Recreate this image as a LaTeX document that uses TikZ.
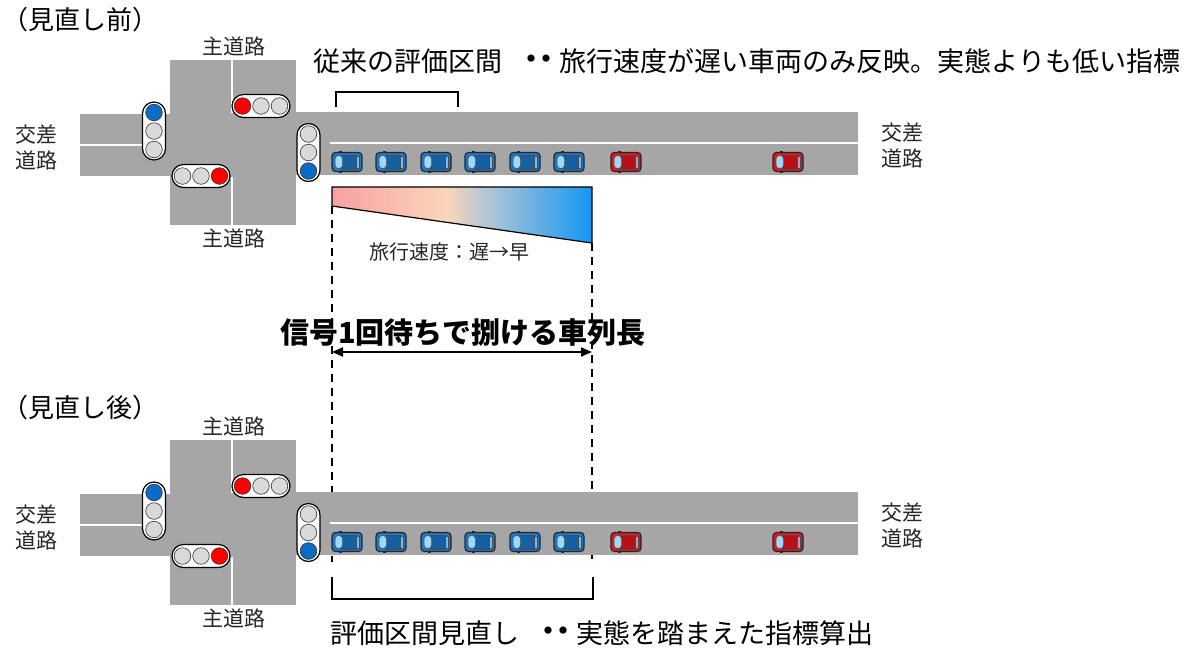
\documentclass[tikz,border=0pt]{standalone}
\usepackage{fontspec}
\setmainfont{Noto Sans CJK JP}
\usetikzlibrary{arrows.meta}

\definecolor{road}{HTML}{A6A6A6}
\definecolor{lampgray}{HTML}{D9D9D9}
\definecolor{lampblue}{HTML}{0A6CC4}
\definecolor{lampred}{HTML}{FF0000}
\definecolor{carblue}{HTML}{1A78CC}
\definecolor{carred}{HTML}{E5141B}
\definecolor{glass}{HTML}{9FD8F6}
\definecolor{gpink}{HTML}{F8A0A2}
\definecolor{gpeach}{HTML}{FAD6B8}
\definecolor{ggray}{HTML}{AFC6D6}
\definecolor{gblue}{HTML}{1496F2}

\pgfdeclarehorizontalshading{speedshade}{100bp}{color(0bp)=(gpink); color(25bp)=(gpink); color(47bp)=(gpeach); color(55bp)=(ggray); color(75bp)=(gblue); color(100bp)=(gblue)}

\tikzset{
  cline/.style={draw=white, line width=2},
  sigbody/.style={draw=black, fill=white, line width=1.2},
  lamp/.style={draw=black!80, line width=0.6},
  lab/.style={inner sep=0, font=\fontsize{21}{26}\selectfont, text=black!85},
  bigtext/.style={inner sep=0, font=\fontsize{27}{32}\selectfont, text=black, anchor=west},
  dashline/.style={draw=black, line width=1.4, dash pattern=on 8pt off 6pt},
  bracket/.style={draw=black, line width=2},
  dimarrow/.style={draw=black, line width=1.8, {Triangle[length=11pt,width=9pt]}-{Triangle[length=11pt,width=9pt]}},
}

\newcommand\Dots{\hspace{0.45em}{\fontsize{34}{32}\selectfont ・\kern-0.55em・}\kern-0.15em}

\newcommand\SigV[5]{%
  \begin{scope}[shift={(#1,#2)}]
    \draw[sigbody, rounded corners=11.5] (-11.5,-29) rectangle (11.5,29);
    \draw[lamp, fill=#3] (0,-18.5) circle (8.3);
    \draw[lamp, fill=#4] (0,0) circle (8.3);
    \draw[lamp, fill=#5] (0,18.5) circle (8.3);
  \end{scope}}
\newcommand\SigH[5]{%
  \begin{scope}[shift={(#1,#2)}]
    \draw[sigbody, rounded corners=11.5] (-29,-11.5) rectangle (29,11.5);
    \draw[lamp, fill=#3] (-18.5,0) circle (8.3);
    \draw[lamp, fill=#4] (0,0) circle (8.3);
    \draw[lamp, fill=#5] (18.5,0) circle (8.3);
  \end{scope}}
\newcommand\Car[3]{%
  \begin{scope}[shift={(#1,#2)}]
    \fill[black!85] (-8,-10.8) rectangle (-5,10.8);
    \draw[fill=#3, draw=black!85, line width=1.2, rounded corners=3.5] (-15,-9.5) rectangle (15,9.5);
    \draw[fill=#3!80!black, draw=black!70, line width=0.5] (-6,-7) rectangle (9.5,7);
    \draw[fill=glass, draw=black!70, line width=0.5, rounded corners=3.5] (-12,-6.5) rectangle (-4.5,6.5);
    \draw[fill=glass!70!#3, draw=black!70, line width=0.4] (9.5,-6) rectangle (12,6);
  \end{scope}}

\newcommand\HalfScene[2]{%
  \begin{scope}[shift={(0,#1)}]
    \fill[road] (170,60) rectangle (296,225);
    \fill[road] (80,114) rectangle (171,176);
    \fill[road] (295,112) rectangle (858,175);
    \draw[cline] (80,145) -- (142,145);
    \draw[cline] (232,60) -- (232,113);
    \draw[cline] (232,177) -- (232,225);
    \draw[cline] (330,143) -- (858,143);
    \SigV{154}{131}{lampblue}{lampgray}{lampgray}
    \SigH{261}{106}{lampred}{lampgray}{lampgray}
    \SigH{201}{176}{lampgray}{lampgray}{lampred}
    \SigV{308.5}{152.5}{lampgray}{lampgray}{lampblue}
    \foreach \cx in {347,391,436,480,525,569} {\Car{\cx}{162}{carblue}}
    \Car{626}{162}{carred}
    \Car{788}{162}{carred}
    \node[lab] (mainN#2) at (234,46) {主道路};
    \node[lab] (mainS#2) at (234,238) {主道路};
    \node[lab, align=center] (crossW#2) at (37,147) {交差\\道路};
    \node[lab, align=center] (crossE#2) at (902,145) {交差\\道路};
  \end{scope}}

\begin{document}
\begin{tikzpicture}[x=1pt, y=-1pt, line join=miter]
  \fill[white] (0,0) rectangle (1200,649);
  \useasboundingbox (0,0) rectangle (1200,649);

  % dashed guide lines (behind lower road)
  \coordinate (dlt) at (332,206);
  \coordinate (dlb) at (332,562);
  \coordinate (drt) at (592,243);
  \coordinate (drb) at (592,562);
  \draw[dashline] (dlt) -- (dlb);
  \draw[dashline] (drt) -- (drb);

  % upper scene
  \node[inner sep=0, anchor=west, font=\fontsize{26}{30}\selectfont] (before) at (2,20) {（見直し前）};
  \HalfScene{0}{A}

  % old evaluation section bracket
  \coordinate (ob1) at (336,107);
  \coordinate (ob2) at (458,107);
  \draw[bracket] (ob1) -- ++(0,-15) -| (ob2);
  \node[bigtext] (oldtxt) at (313,61) {従来の評価区間\Dots 旅行速度が遅い車両のみ反映。実態よりも低い指標};

  % speed gradient
  \shadedraw[shading=speedshade, draw=black, line width=1.2] (332,187) -- (592,187) -- (592,243) -- (332,206) -- cycle;
  \node[inner sep=0, font=\fontsize{20}{24}\selectfont, text=black!85] (speed) at (449,252) {旅行速度：遅→早};

  % queue length
  \node[inner sep=0, font=\fontsize{29}{34}\selectfont\bfseries] (queue) at (463,333) {信号1回待ちで捌ける車列長};
  \coordinate (al) at (332,352);
  \coordinate (ar) at (592,352);
  \draw[dimarrow] (al) -- (ar);

  % lower scene
  \node[inner sep=0, anchor=west, font=\fontsize{26}{30}\selectfont] (after) at (2,408) {（見直し後）};
  \HalfScene{380}{B}

  % new evaluation section bracket
  \coordinate (nb1) at (332,577);
  \coordinate (nb2) at (593,577);
  \draw[bracket] (nb1) -- ++(0,22) -| (nb2);
  \node[bigtext] (newtxt) at (330,633) {評価区間見直し\Dots 実態を踏まえた指標算出};
\end{tikzpicture}
\end{document}
